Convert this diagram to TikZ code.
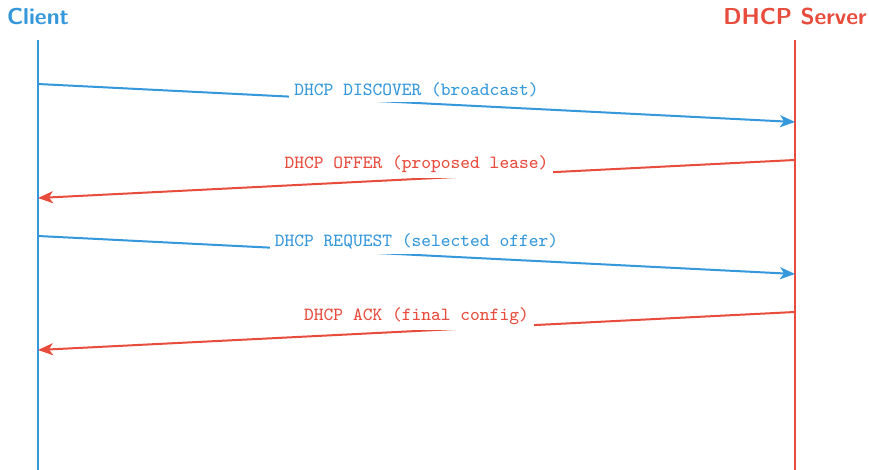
\documentclass[tikz,border=0pt]{standalone}
\usetikzlibrary{arrows.meta}
\definecolor{clientblue}{HTML}{3498DB}
\definecolor{serverred}{HTML}{E74C3C}
\begin{document}
\begin{tikzpicture}[x=0.5pt,y=-0.5pt,
  actor/.style={font=\fontsize{11.5}{14}\selectfont\sffamily\bfseries, inner sep=0pt},
  lifeline/.style={line width=1pt},
  msg/.style={line width=1pt, -{Stealth[length=7.5pt,width=6pt,inset=2pt]}},
  msglabel/.style={font=\fontsize{9.3}{11}\ttfamily, fill=white, above, inner sep=2.5pt}]
  \useasboundingbox[fill=white] (0,0) rectangle (869,470);

  % participants
  \node[actor, text=clientblue] (client) at (38,17) {Client};
  \node[actor, text=serverred] (server) at (795,17) {DHCP Server};

  % lifelines
  \coordinate (ctop) at (38,40);   \coordinate (cbot) at (38,470);
  \coordinate (stop) at (795,40);  \coordinate (sbot) at (795,470);
  \draw[lifeline, clientblue] (ctop) -- (cbot);
  \draw[lifeline, serverred] (stop) -- (sbot);

  % message end points on the lifelines
  \coordinate (c1) at (38,84);   \coordinate (s1) at (795,122);
  \coordinate (s2) at (795,160); \coordinate (c2) at (38,198);
  \coordinate (c3) at (38,236);  \coordinate (s3) at (795,274);
  \coordinate (s4) at (795,312); \coordinate (c4) at (38,350);

  % messages
  \draw[msg, clientblue] (c1) -- node[msglabel, text=clientblue] (m1) {DHCP DISCOVER (broadcast)} (s1);
  \draw[msg, serverred] (s2) -- node[msglabel, text=serverred] (m2) {DHCP OFFER (proposed lease)} (c2);
  \draw[msg, clientblue] (c3) -- node[msglabel, text=clientblue] (m3) {DHCP REQUEST (selected offer)} (s3);
  \draw[msg, serverred] (s4) -- node[msglabel, text=serverred] (m4) {DHCP ACK (final config)} (c4);
\end{tikzpicture}
\end{document}
